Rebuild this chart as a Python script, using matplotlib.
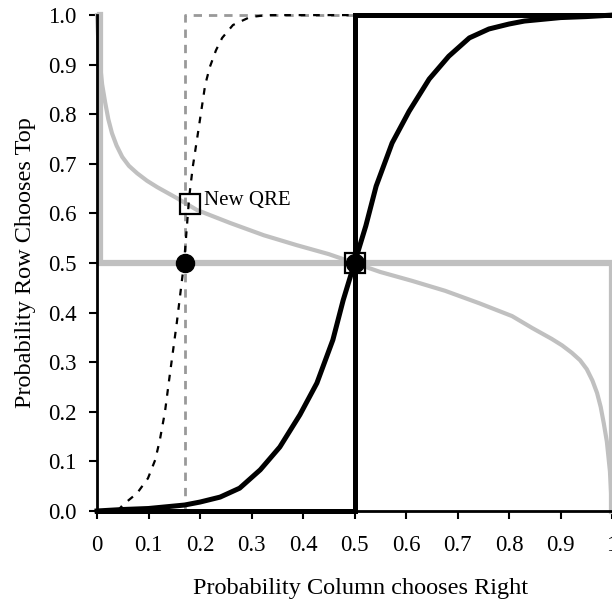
import matplotlib.pyplot as plt
import numpy as np

plt.rcParams['font.family'] = ['Liberation Serif', 'DejaVu Serif']

# best responses (step lines)
row_br_x = [0.005, 0.005, 1.0, 1.0]
row_br_y = [1.0, 0.5, 0.5, 0.0]
col_br_x = [0.0, 0.5, 0.5, 1.0]
col_br_y = [0.0, 0.0, 1.0, 1.0]
new_br_x = [0.17, 0.17, 0.5]
new_br_y = [0.0, 1.0, 1.0]

# row logit response (gray curve)
row_qr_x = [0.0, 0.004, 0.01, 0.016, 0.022, 0.029, 0.038, 0.049, 0.062, 0.078, 0.097, 0.117,
            0.155, 0.194, 0.258, 0.324, 0.388, 0.45, 0.5,
            0.55, 0.612, 0.676, 0.742, 0.806, 0.845, 0.883, 0.903, 0.922, 0.938, 0.951,
            0.962, 0.971, 0.978, 0.984, 0.99, 0.996, 1.0]
row_qr_y = [1.0, 0.92, 0.86, 0.823, 0.79, 0.762, 0.737, 0.714, 0.696, 0.681, 0.666, 0.653,
            0.631, 0.607, 0.581, 0.556, 0.536, 0.518, 0.5,
            0.482, 0.464, 0.444, 0.419, 0.393, 0.369, 0.347, 0.334, 0.319, 0.304, 0.286,
            0.263, 0.238, 0.21, 0.177, 0.14, 0.08, 0.0]

# column logit response (black curve)
col_qr_x = [0.0, 0.05, 0.1, 0.17, 0.2, 0.239, 0.277, 0.317, 0.355, 0.394, 0.427, 0.458, 0.478, 0.5,
            0.522, 0.542, 0.573, 0.606, 0.645, 0.683, 0.723, 0.761, 0.8, 0.83, 0.9, 0.95, 1.0]
col_qr_y = [0.0, 0.003, 0.005, 0.012, 0.018, 0.028, 0.046, 0.083, 0.129, 0.194, 0.258, 0.345, 0.425, 0.5,
            0.575, 0.655, 0.742, 0.806, 0.871, 0.917, 0.954, 0.972, 0.982, 0.988, 0.995, 0.997, 1.0]

# new column logit response (dashed)
new_qr_x = [0.04, 0.05, 0.078, 0.099, 0.113, 0.122, 0.132, 0.14, 0.155, 0.169, 0.179,
            0.186, 0.196, 0.21, 0.219, 0.231, 0.243, 0.264, 0.297, 0.33, 0.5]
new_qr_y = [0.0, 0.012, 0.036, 0.066, 0.103, 0.143, 0.2, 0.264, 0.38, 0.5, 0.633,
            0.694, 0.762, 0.859, 0.895, 0.929, 0.954, 0.98, 0.996, 1.0, 1.0]

nash_x = [0.17, 0.5]
nash_y = [0.5, 0.5]
qre_x = [0.5, 0.18]
qre_y = [0.5, 0.62]

fig = plt.figure(figsize=(6.12, 6.04), dpi=100)
ax = fig.add_axes([0.1585, 0.154, 0.8415, 0.821])

gray = '#c0c0c0'
ax.plot(row_br_x, row_br_y, color=gray, lw=4.5, clip_on=False, solid_joinstyle='miter')
ax.plot(row_qr_x, row_qr_y, color=gray, lw=3, clip_on=False)
ax.plot(new_br_x, new_br_y, color='#999999', lw=2, ls=(0, (3, 2.5)), clip_on=False)
ax.plot(col_br_x, col_br_y, color='black', lw=3.6, clip_on=False, solid_joinstyle='miter')
ax.plot(col_qr_x, col_qr_y, color='black', lw=3.6, clip_on=False)
ax.plot(new_qr_x, new_qr_y, color='black', lw=1.6, ls=(0, (3, 3.5)), clip_on=False)

ax.plot(nash_x, nash_y, 'o', color='black', ms=13, clip_on=False)
ax.plot(qre_x, qre_y, 's', mfc='none', mec='black', ms=15, mew=1.6, clip_on=False)
ax.text(0.208, 0.627, 'New QRE', fontsize=15, va='center', ha='left')

ax.set_xlim(0, 1)
ax.set_ylim(0, 1)
ax.set_xticks(np.arange(0, 1.01, 0.1))
ax.set_xticklabels(['0', '0.1', '0.2', '0.3', '0.4', '0.5', '0.6', '0.7', '0.8', '0.9', '1'])
ax.set_yticks(np.arange(0, 1.01, 0.1))
ax.set_yticklabels(['%.1f' % v for v in np.arange(0, 1.01, 0.1)])
ax.tick_params(labelsize=16.5, width=1.5, length=5.5, direction='out')
ax.tick_params(axis='y', pad=9)
ax.tick_params(axis='x', pad=12)
for s in ['top', 'right']:
    ax.spines[s].set_visible(False)
for s in ['left', 'bottom']:
    ax.spines[s].set_linewidth(2)
ax.set_xlabel('Probability Column chooses Right', fontsize=17.5, labelpad=13)
ax.xaxis.set_label_coords(0.511, -0.135, transform=ax.transAxes)
ax.set_ylabel('Probability Row Chooses Top', fontsize=17.5, labelpad=9)

plt.savefig('out.png')
